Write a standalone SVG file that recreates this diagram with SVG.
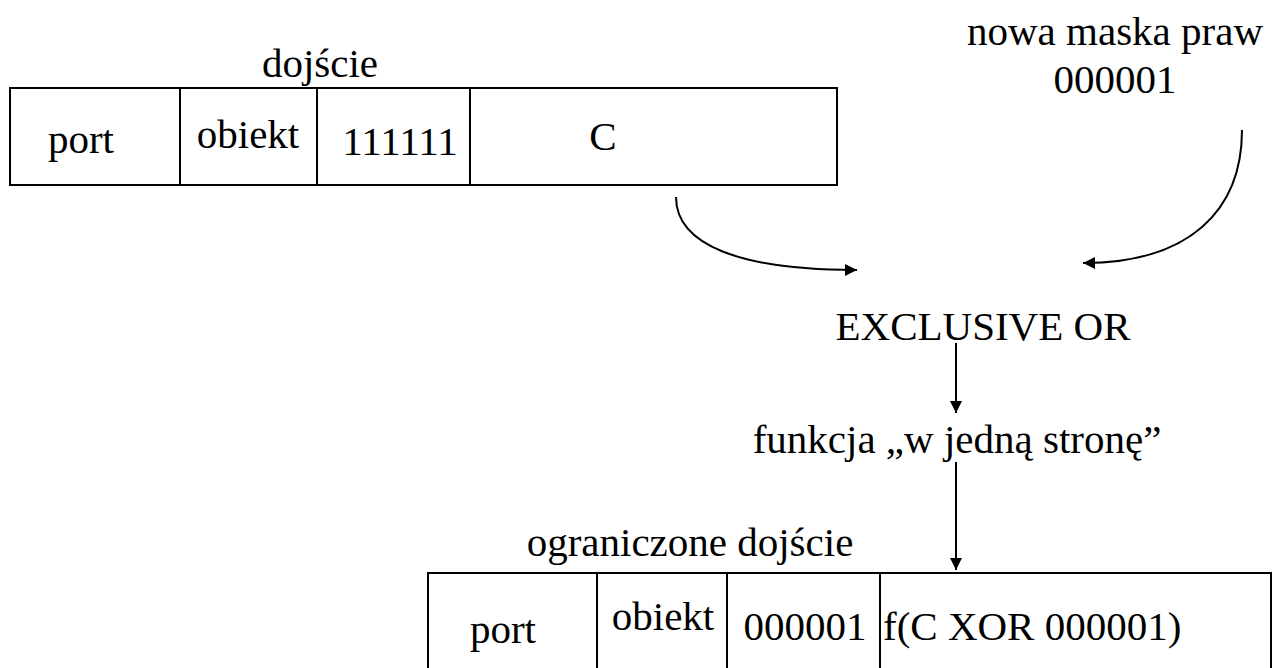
<svg xmlns="http://www.w3.org/2000/svg" width="1286" height="668" viewBox="0 0 1286 668">
<style>
text{font-family:'Liberation Serif','Times New Roman',Times,'DejaVu Serif',serif;font-size:41px;fill:#000}
.box{fill:#fff;stroke:#000;stroke-width:2}
.ln{stroke:#000;stroke-width:2;fill:none}
.c{text-anchor:middle}
</style>
<defs>
<marker id="ah" markerWidth="14" markerHeight="14" refX="12" refY="6" orient="auto" markerUnits="userSpaceOnUse">
<path d="M0,0 L12,6 L0,12 Z" fill="#000"/>
</marker>
</defs>
<rect width="1286" height="668" fill="#fff"/>
<g id="handle">
<text class="c" x="320" y="77" font-family="Liberation Serif, serif">dojście</text>
<rect class="box" x="10" y="88" width="827" height="97"/>
<line class="ln" x1="180" y1="88" x2="180" y2="185"/>
<line class="ln" x1="317" y1="88" x2="317" y2="185"/>
<line class="ln" x1="470" y1="88" x2="470" y2="185"/>
<text class="c" x="81" y="153">port</text>
<text class="c" x="248" y="148">obiekt</text>
<text class="c" x="400" y="155">111111</text>
<text class="c" x="603" y="150">C</text>
</g>
<g id="mask">
<text class="c" x="1115" y="45">nowa maska praw</text>
<text class="c" x="1115" y="93">000001</text>
</g>
<g id="xor">
<text class="c" x="983" y="340">EXCLUSIVE OR</text>
</g>
<g id="oneway">
<text class="c" x="957" y="453">funkcja „w jedną stronę”</text>
</g>
<g id="restricted">
<text class="c" x="690" y="556">ograniczone dojście</text>
<rect class="box" x="428" y="573" width="843" height="110"/>
<line class="ln" x1="597" y1="573" x2="597" y2="668"/>
<line class="ln" x1="727" y1="573" x2="727" y2="668"/>
<line class="ln" x1="880" y1="573" x2="880" y2="668"/>
<text class="c" x="503" y="643">port</text>
<text class="c" x="663" y="630">obiekt</text>
<text class="c" x="805" y="640">000001</text>
<text x="883" y="640">f(C XOR 000001)</text>
</g>
<g id="connectors">
<path class="ln" d="M676,197 C676,245 740,270 857,270" marker-end="url(#ah)"/>
<path class="ln" d="M1242,130 C1242,210 1190,263 1083,263" marker-end="url(#ah)"/>
<line class="ln" x1="956" y1="343" x2="956" y2="413" marker-end="url(#ah)"/>
<line class="ln" x1="956" y1="462" x2="956" y2="570" marker-end="url(#ah)"/>
</g>
</svg>
